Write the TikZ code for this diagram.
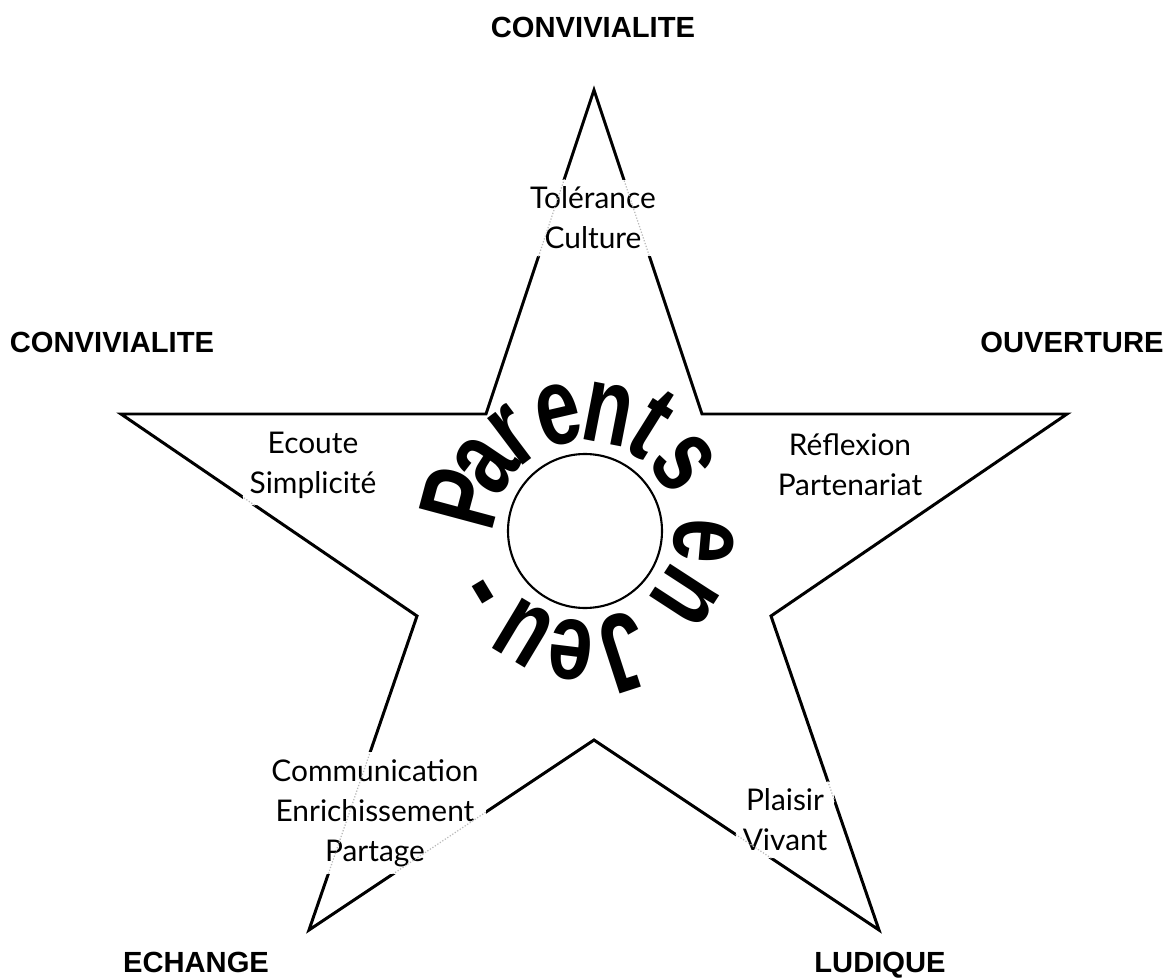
\documentclass[tikz,border=0pt]{standalone}
\usepackage{fontspec}
\setmainfont{Liberation Sans}
\newfontfamily\handfont{Lato}
\usetikzlibrary{calc}
\begin{document}
\begin{tikzpicture}[x=0.02cm,y=-0.02cm,
  starline/.style={line width=1.7pt, line join=miter},
  dotline/.style={gray!55, densely dotted, line width=0.7pt},
  corner/.style={font=\fontsize{16.6}{20}\selectfont\bfseries, inner sep=0pt, anchor=base},
  innertxt/.style={font=\handfont\fontsize{17}{22.7}\selectfont, align=center, fill=white, inner sep=4pt},
  arcl/.style={font=\fontsize{63}{63}\selectfont\bfseries, anchor=base, inner sep=0pt}]
\useasboundingbox (0,0) rectangle (1167,980);
% star corners
\coordinate (sT)  at (594,90);
\coordinate (sUR) at (702,414);
\coordinate (sR)  at (1067,414);
\coordinate (sLR) at (771,616);
\coordinate (sBR) at (879,930);
\coordinate (sB)  at (594,740);
\coordinate (sBL) at (309,930);
\coordinate (sLL) at (417,616);
\coordinate (sL)  at (121,414);
\coordinate (sUL) at (486,414);
\draw[starline] (sT) -- (sUR) -- (sR) -- (sLR) -- (sBR) -- (sB) -- (sBL) -- (sLL) -- (sL) -- (sUL) -- cycle;
% centre circle
\node[draw, circle, line width=1.2pt, minimum size=154*0.02cm, inner sep=0pt] (ring) at (585,531) {};
% curved title
\coordinate (C) at (585,531);
\foreach \ch/\ang [count=\i] in {P/165, a/146, r/127, e/103, n/79, t/58, s/35, e/-5, n/-33, J/-72, e/-97, u/-121, -/-149}{
  \pgfmathsetmacro\rot{\ang-90}
  \node[arcl, rotate=\rot] (arc\i) at ($(C)+(-\ang:90)$) {\scalebox{0.72}[1]{\ch}};
}
% corner labels
\node[corner] (topc)   at (593,38)  {CONVIVIALITE};
\node[corner] (leftc)  at (112,352) {CONVIVIALITE};
\node[corner] (rightc) at (1072,352) {OUVERTURE};
\node[corner] (echg)   at (196,972) {ECHANGE};
\node[corner] (ludq)   at (880,972) {LUDIQUE};
% inner labels
\node[innertxt] (tol) at (593,218) {Tolérance\\Culture};
\node[innertxt] (eco) at (313,465) {Ecoute\\Simplicité};
\node[innertxt] (ref) at (850,465) {Réflexion\\Partenariat};
\node[innertxt] (com) at (375,813) {Communication\\Enrichissement\\Partage};
\node[innertxt] (pla) at (785,820) {Plaisir\\Vivant};
\foreach \n in {tol,eco,ref,com,pla}{
  \begin{scope}
    \clip (\n.south west) rectangle (\n.north east);
    \draw[dotline] (sT) -- (sUR) -- (sR) -- (sLR) -- (sBR) -- (sB) -- (sBL) -- (sLL) -- (sL) -- (sUL) -- cycle;
  \end{scope}
}
\end{tikzpicture}
\end{document}
